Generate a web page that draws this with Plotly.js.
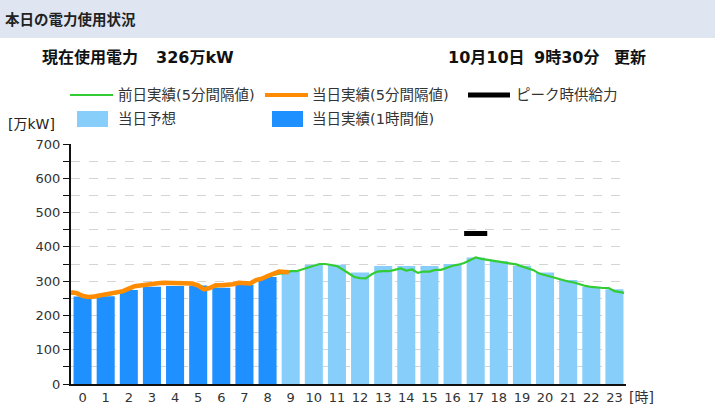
<!DOCTYPE html>
<html>
<head>
<meta charset="utf-8">
<script src="https://cdn.plot.ly/plotly-3.0.1.min.js"></script>
<style>
html,body{margin:0;padding:0;background:#fff;}
#chart{width:715px;height:409px;}
</style>
</head>
<body>
<div id="chart"></div>
<script>
// ---- data ----
const hourLabels = ["0","1","2","3","4","5","6","7","8","9","10","11","12","13","14","15","16","17","18","19","20","21","22","23"];
const actualHours = [0,1,2,3,4,5,6,7,8];
const actualHourly = [255,256,274,284,286,287,281,289,312];
const forecastHours = [9,10,11,12,13,14,15,16,17,18,19,20,21,22,23];
const forecastValues = [331,348,348,325,344,344,344,350,369,359,345,325,303,284,276];

const prevDayTimes = ["0:00","0:15","0:30","0:45","1:00","1:15","1:30","1:45","2:00","2:15","2:30","2:45",
  "3:00","3:15","3:30","3:45","4:00","4:15","4:30","4:45","5:00","5:15","5:30","5:45",
  "6:00","6:15","6:30","6:45","7:00","7:15","7:30","7:45","8:00","8:15","8:30","8:45",
  "9:00","9:15","9:30","9:45","10:00","10:15","10:30","10:45","11:00","11:15","11:30","11:45",
  "12:00","12:15","12:30","12:45","13:00","13:15","13:30","13:45","14:00","14:15","14:30","14:45",
  "15:00","15:15","15:30","15:45","16:00","16:15","16:30","16:45","17:00","17:15","17:30","17:45",
  "18:00","18:15","18:30","18:45","19:00","19:15","19:30","19:45","20:00","20:15","20:30","20:45",
  "21:00","21:15","21:30","21:45","22:00","22:15","22:30","22:45","23:00","23:15","23:30","23:45","23:55"];
const prevDayValues = [264,262,255,252,253,256,259,262,265,268,276,283,
  286,289,292,294,296,297,296,295,292,293,290,280,
  282,286,287,287,290,293,292,292,300,305,312,318,
  322,323,329,329,335,340,345,350,350,347,344,334,
  322,312,309,308,320,328,329,329,333,337,331,334,
  324,328,328,333,333,340,345,348,353,361,369,365,
  363,359,357,354,351,349,343,338,332,322,317,314,
  308,303,299,296,290,286,283,281,280,280,271,268,266];

const todayTimes = ["0:00","0:15","0:30","0:45","1:00","1:15","1:30","1:45","2:00","2:15","2:30","2:45",
  "3:00","3:15","3:30","3:45","4:00","4:15","4:30","4:45","5:00","5:15","5:30","5:45",
  "6:00","6:15","6:30","6:45","7:00","7:15","7:30","7:45","8:00","8:15","8:30","8:45",
  "9:00","9:15","9:25"];
const todayValues = [268,265,257,254,255,258,260,263,267,271,278,285,
  287,290,293,294,295,295,295,294,293,293,287,276,
  280,288,288,288,291,295,293,293,303,307,315,321,
  328,327,326];

const peakSupplyTimes = ["17:00","18:00"];
const peakSupplyValues = [439,439];

// ---- helpers ----
function toHours(s){const p=s.split(":");return (+p[0])+(+p[1])/60;}
const L=71,R=626,T=144,B=384;
const W=R-L,H=B-T;
const px=x=>(x-L)/W, py=y=>(B-y)/H;

const CJK = '"Noto Sans CJK JP", "Noto Sans", sans-serif';
const NUM = '"DejaVu Sans", "Noto Sans CJK JP", sans-serif';
const TXT = '#333';

const traces = [
  {type:'bar', x:forecastHours, y:forecastValues, marker:{color:'#87cefa'}, hoverinfo:'skip', showlegend:false},
  {type:'bar', x:actualHours, y:actualHourly, marker:{color:'#1e90ff'}, hoverinfo:'skip', showlegend:false},
  {type:'scatter', mode:'lines', xaxis:'x2', x:prevDayTimes.map(toHours), y:prevDayValues,
   line:{color:'#33cc33', width:2.2, shape:'linear'}, showlegend:false},
  {type:'scatter', mode:'lines', xaxis:'x2', x:todayTimes.map(toHours), y:todayValues,
   line:{color:'#ff8c00', width:4.5}, showlegend:false},
  {type:'scatter', mode:'lines', xaxis:'x2', x:peakSupplyTimes.map(toHours), y:peakSupplyValues,
   line:{color:'#000', width:5}, showlegend:false}
];

const shapes = [
  {type:'rect', xref:'paper', yref:'paper', x0:px(-5), x1:px(720), y0:py(0-5), y1:py(38), fillcolor:'#dfe6f2', line:{width:0}, layer:'below'},
  // legend samples
  {type:'line', xref:'paper', yref:'paper', x0:px(70), x1:px(113), y0:py(95), y1:py(95), line:{color:'#33cc33', width:2.2}},
  {type:'line', xref:'paper', yref:'paper', x0:px(265), x1:px(308), y0:py(95), y1:py(95), line:{color:'#ff8c00', width:4}},
  {type:'line', xref:'paper', yref:'paper', x0:px(468), x1:px(510), y0:py(95), y1:py(95), line:{color:'#000', width:5}},
  {type:'rect', xref:'paper', yref:'paper', x0:px(77), x1:px(108), y0:py(111), y1:py(127), fillcolor:'#87cefa', line:{width:0}},
  {type:'rect', xref:'paper', yref:'paper', x0:px(272), x1:px(303), y0:py(111), y1:py(127), fillcolor:'#1e90ff', line:{width:0}}
];

function ann(text,x,y,opts){
  return Object.assign({text:text, xref:'paper', yref:'paper', x:px(x), y:py(y), xanchor:'left', yanchor:'middle',
    showarrow:false, font:{family:NUM, size:14.5, color:TXT}}, opts||{});
}
const HF = {family:NUM, size:16, color:'#111'};
const annotations = [
  ann('<b>本日の電力使用状況</b>', 3, 18, {font:{family:CJK, size:14.5, color:'#222'}}),
  ann('<b>現在使用電力</b>', 40, 58, {font:HF}),
  ann('<b>326万kW</b>', 154, 58, {font:HF}),
  ann('<b>10月10日</b>', 446, 58, {font:HF}),
  ann('<b>9時30分</b>', 532, 58, {font:HF}),
  ann('<b>更新</b>', 612, 58, {font:HF}),
  ann('前日実績(5分間隔値)', 116, 95),
  ann('当日実績(5分間隔値)', 310, 95),
  ann('ピーク時供給力', 514, 95),
  ann('当日予想', 116, 119),
  ann('当日実績(1時間値)', 310, 119),
  ann('[万kW]', 6, 124, {font:{family:NUM, size:14, color:'#222'}}),
  ann('[時]', 627, 397, {font:{family:NUM, size:14, color:TXT}})
];

const layout = {
  width:715, height:409,
  margin:{l:L, r:715-R, t:T, b:409-B, pad:0},
  paper_bgcolor:'#fff', plot_bgcolor:'#fff',
  barmode:'overlay', bargap:0.22,
  showlegend:false,
  xaxis:{range:[-0.5,23.5], tickvals:hourLabels.map((_,i)=>i), ticktext:hourLabels,
    showgrid:false, zeroline:false, showline:true, linecolor:'#111', linewidth:2,
    ticks:'', tickfont:{family:NUM, size:13, color:TXT}, fixedrange:true},
  xaxis2:{range:[0,24], overlaying:'x', visible:false, fixedrange:true},
  yaxis:{range:[0,700], dtick:100, tick0:0, showgrid:true, gridcolor:'#d4d4d4', griddash:'dash', gridwidth:1,
    zeroline:false, showline:true, linecolor:'#111', linewidth:2,
    ticks:'outside', ticklen:6, tickwidth:1, tickcolor:'#111',
    minor:{dtick:50, ticks:'outside', ticklen:6, tickcolor:'#111', showgrid:true, gridcolor:'#d4d4d4', griddash:'dash', gridwidth:1},
    tickfont:{family:NUM, size:13, color:TXT}, fixedrange:true},
  shapes:shapes,
  annotations:annotations
};

Plotly.newPlot('chart', traces, layout, {displayModeBar:false, staticPlot:true});
</script>
</body>
</html>
